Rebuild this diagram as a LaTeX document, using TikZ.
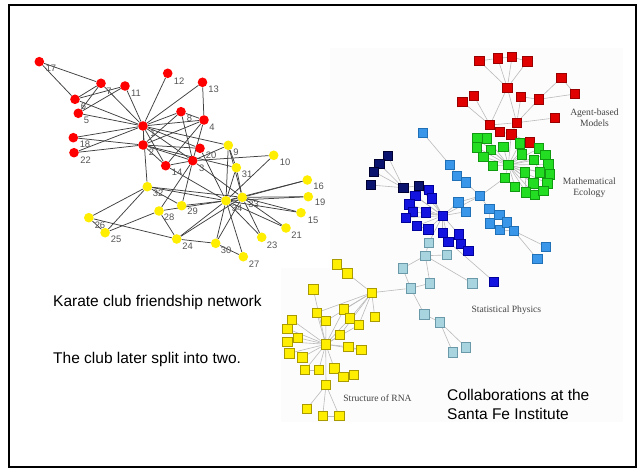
\documentclass[tikz,border=0pt]{standalone}
\usepackage{fontspec}
\setmainfont{Liberation Sans}
\newfontfamily\labserif{Liberation Serif}
\pgfdeclarelayer{bgzero}
\pgfdeclarelayer{edges}
\pgfsetlayers{bgzero,edges,main}
\definecolor{kred}{HTML}{FF0000}
\definecolor{kyel}{HTML}{FFEE00}
\definecolor{kedgec}{HTML}{404040}
\definecolor{klabc}{HTML}{555555}
\definecolor{sedgec}{HTML}{BBBBBB}
\definecolor{sred}{HTML}{E00000}\definecolor{sredd}{HTML}{990000}
\definecolor{sgrn}{HTML}{22DD22}\definecolor{sgrnd}{HTML}{119911}
\definecolor{smid}{HTML}{3A96E8}\definecolor{smidd}{HTML}{2070B8}
\definecolor{snavy}{HTML}{0A146E}\definecolor{snavyd}{HTML}{000033}
\definecolor{sblue}{HTML}{1414E0}\definecolor{sblued}{HTML}{00009A}
\definecolor{spale}{HTML}{A8D4E0}\definecolor{spaled}{HTML}{6A9AAA}
\definecolor{syel}{HTML}{FFEE00}\definecolor{syeld}{HTML}{A89A00}
\definecolor{grplab}{HTML}{444444}
\definecolor{imgbg}{HTML}{FCFCFC}
\tikzset{
  kn/.style={circle,minimum size=9.6pt,inner sep=0pt,draw=none},
  klbl/.style={text=klabc,font=\fontsize{9.4}{10}\selectfont,inner sep=0pt},
  kedge/.style={draw=kedgec,line width=0.75pt},
  sq/.style={rectangle,minimum size=9.4pt,inner sep=0pt,line width=0.6pt},
  sedge/.style={draw=sedgec,line width=0.6pt},
  grp/.style={text=grplab,font=\labserif\fontsize{9.6}{11}\selectfont,inner sep=0pt,align=center},
  bigtxt/.style={font=\fontsize{15.5}{18}\selectfont,inner sep=0pt,anchor=base west}
}
\begin{document}
\begin{tikzpicture}[x=1pt,y=-1pt]
\useasboundingbox (0,0) rectangle (639,470);
\begin{pgfonlayer}{bgzero}
\fill[white] (0,0) rectangle (639,470);
\fill[imgbg] (281,48) rectangle (623,422);
\fill[white] (20,40) rectangle (330,268);
\end{pgfonlayer}
\draw[line width=1.5pt] (9,5) rectangle (636,467);

% ---------- Karate club ----------
\foreach \n/\x/\y/\lx/\ly/\c in {
1/143/126/153/133/kred, 2/143/145/151.6/152/kred, 3/192.7/160.7/201.7/168.7/kred,
4/204/120/212/127/kred, 5/78.3/113.3/86.4/120/kred, 6/75/99.3/83.5/106/kred,
7/101/83.3/109/91/kred, 8/181/111.7/189.5/118/kred, 9/228.3/145.3/236/152/kyel,
10/273.7/155.3/285/162/kyel, 11/125/86/136/93/kred, 12/167.7/73.3/179/81/kred,
13/202.5/82.3/213.5/89/kred, 14/165.7/165.7/177/172/kred, 15/301/212.7/313/220/kyel,
16/307.3/180/318.7/186/kyel, 17/39.3/61.7/51/68/kred, 18/73.3/137.7/85/144/kred,
19/308.3/196.7/320/202.7/kyel, 20/200/148.3/211/155/kred, 21/286/228/296.7/235/kyel,
22/74/152.7/85.6/160/kred, 23/261.7/237.3/272/245/kyel, 24/176.7/239/187.5/246/kyel,
25/105.1/232.7/116/239/kyel, 26/88.8/217.7/100/225/kyel, 27/243.3/256.7/254/264/kyel,
28/159/211/169/217.7/kyel, 29/181.7/205.7/192.7/211/kyel, 30/215.7/243.3/226/250.7/kyel,
31/236.3/167.7/247/174/kyel, 32/147.3/186.7/158/193/kyel, 33/242.3/197.3/253.5/204.7/kyel,
34/226/200.7/237/208/kyel}{
  \node[klbl] (kl\n) at (\lx,\ly) {\n};
  \node[kn,fill=\c] (k\n) at (\x,\y) {};
}
\begin{pgfonlayer}{edges}
\foreach \a/\b in {1/2,1/3,1/4,1/5,1/6,1/7,1/8,1/9,1/11,1/12,1/13,1/14,1/18,1/20,1/22,1/32,
2/3,2/4,2/8,2/14,2/18,2/20,2/22,2/31,3/4,3/8,3/9,3/10,3/14,3/28,3/29,3/33,
4/8,4/13,4/14,5/7,5/11,6/7,6/11,6/17,7/17,9/31,9/33,9/34,10/34,14/34,15/33,15/34,
16/33,16/34,19/33,19/34,20/34,21/33,21/34,23/33,23/34,24/26,24/28,24/30,24/33,24/34,
25/26,25/28,25/32,26/32,27/30,27/34,28/34,29/32,29/34,30/33,30/34,31/33,31/34,32/33,32/34,33/34}
  \draw[kedge] (k\a) -- (k\b);
\end{pgfonlayer}

% ---------- Santa Fe ----------
\foreach \n/\x/\y in {R1/479.3/61,R2/497.7/58.3,R3/512/57,R4/527.3/61.3,R5/507.3/87.7,
R6/561.3/77.7,R7/575/94,R8/521/96.7,R9/538.7/99.3,R10/474/96,R11/462.3/101.7,
R12/516.7/122.7,R13/554.7/118,R14/490/125,R15/500/131.7,R16/511.3/134.3,R17/530/142.3}
  \node[sq,fill=sred,draw=sredd] (\n) at (\x,\y) {};
\foreach \n/\x/\y in {G1/477.3/138.3,G2/486.7/138.3,G3/476.7/147.3,G4/491/149.7,G5/483.3/156.7,
G6/503.3/146.7,G7/520/143.3,G8/538.7/148.3,G9/521.7/154.3,G10/545.3/155,G11/492.7/165.7,
G12/508.3/165,G13/534/160,G14/548.3/164.3,G15/525/172.3,G16/540/172.3,G17/550/174.3,
G18/505/177.7,G19/533.3/183.3,G20/547.3/183.3,G21/515/186.7,G22/526/192.3,G23/534.7/195,G24/543.3/191}
  \node[sq,fill=sgrn,draw=sgrnd] (\n) at (\x,\y) {};
\foreach \n/\x/\y in {B0/422.7/132.7,B1/450/165,B2/456.7/175.7,B3/465.7/182.3,B4/480/196,
B5/458.3/202.3,B6/465.7/211.7,B7/489.3/209,B8/499.3/215,B9/490/223.3,B10/500/230,
B11/506.7/222.3,B12/514/231,B13/546/246.7,B14/537.3/259}
  \node[sq,fill=smid,draw=smidd] (\n) at (\x,\y) {};
\foreach \n/\x/\y in {N1/387.7/155.7,N2/379.3/164,N3/374/171.7,N4/370.7/185,N5/403.3/187.7,N6/418.7/185.7}
  \node[sq,fill=snavy,draw=snavyd] (\n) at (\x,\y) {};
\foreach \n/\x/\y in {U1/428.7/190,U2/415.3/195.7,U3/431.7/198.3,U4/409.3/204.3,U5/426/212.3,
U6/412.7/211.7,U7/406/217.7,U8/442.7/215.7,U9/416.7/226,U10/428.3/229.3,U11/442.7/232.7,
U12/448.3/241.7,U13/458.7/234.3,U14/460.7/244,U15/468.3/251,U16/494/281.7}
  \node[sq,fill=sblue,draw=sblued] (\n) at (\x,\y) {};
\foreach \n/\x/\y in {P1/428.7/242.7,P2/425.3/255.7,P3/446.7/255,P4/402.7/268.3,P5/430/283.3,
P6/472.3/283.3,P7/410.7/288.3,P8/424.3/314.3,P9/440/322.3,P10/452.7/352.3,P11/466/347.3}
  \node[sq,fill=spale,draw=spaled] (\n) at (\x,\y) {};
\foreach \n/\x/\y in {Y1/336.7/264.3,Y2/347.3/273.3,Y3/313.3/289.3,Y4/371.7/292.7,Y5/316.7/312.7,
Y6/344/309.3,Y7/326/321,Y8/350/318.3,Y9/374.7/316.7,Y10/358.7/325,Y11/292/320,Y12/287.3/328.7,
Y13/340/335,Y14/297.7/337.7,Y15/287.3/341.7,Y16/325.7/344.3,Y17/348.3/346.7,Y18/361.3/350,
Y19/289.3/353.3,Y20/302.3/357.3,Y21/305/370,Y22/318.7/370,Y23/334.3/368.3,Y24/343.3/376.7,
Y25/354/375,Y26/326/385,Y27/306.7/409,Y28/322.7/416,Y29/339.3/416}
  \node[sq,fill=syel,draw=syeld] (\n) at (\x,\y) {};

\begin{pgfonlayer}{edges}
\foreach \a/\b in {R1/R2,R2/R3,R3/R4,R1/R5,R2/R5,R3/R5,R4/R5,R5/R12,R5/R14,R8/R12,R9/R12,R8/R9,
R6/R9,R7/R9,R6/R7,R10/R14,R11/R14,R12/R13,R12/R14,R14/R15,R15/R16,R12/R16,R16/R17,R16/G12,R17/G12,
G12/G1,G12/G2,G12/G3,G12/G4,G12/G5,G12/G6,G12/G7,G12/G8,G12/G9,G12/G10,G12/G11,G12/G13,G12/G14,
G12/G15,G12/G16,G12/G17,G12/G18,G12/G19,G12/G20,G12/G21,G12/G22,G12/G23,G12/G24,
G1/G2,G3/G5,G8/G10,G13/G16,G14/G17,G15/G22,G19/G23,G20/G24,G18/B4,
B0/B1,B1/B2,B2/B3,B3/B4,B4/B5,B4/B7,B5/B6,B4/U8,B5/U8,B6/U8,B7/B8,B7/B9,B8/B11,B9/B10,
B10/B12,B11/B12,B12/B13,B12/B14,
N1/N2,N2/N3,N1/N5,N2/N5,N3/N5,N4/N5,N5/N6,N5/U8,N6/U8,
U8/U1,U8/U2,U8/U3,U8/U4,U8/U5,U8/U6,U8/U7,U8/U9,U8/U10,U8/U11,U8/U12,U8/U13,
U1/U3,U2/U4,U4/U6,U6/U7,U9/U10,U11/U12,U13/U14,U14/U15,U12/U16,
U8/P1,P1/P2,P2/P3,P2/P4,P2/P5,P2/P6,P4/P7,P5/P7,P7/P8,P8/P9,P9/P10,P9/P11,P7/Y4,
Y1/Y2,Y2/Y4,Y4/Y5,Y4/Y6,Y4/Y7,Y4/Y8,Y4/Y9,Y4/Y10,Y4/Y13,Y6/Y8,Y8/Y10,
Y16/Y3,Y16/Y5,Y16/Y6,Y16/Y7,Y16/Y8,Y16/Y10,Y16/Y11,Y16/Y12,Y16/Y13,Y16/Y14,Y16/Y15,
Y16/Y17,Y16/Y18,Y16/Y19,Y16/Y20,Y16/Y21,Y16/Y22,Y16/Y23,Y16/Y26,
Y11/Y12,Y17/Y18,Y21/Y22,Y23/Y24,Y24/Y25,Y26/Y27,Y26/Y28,Y26/Y29,Y28/Y29}
  \draw[sedge] (\a) -- (\b);
\end{pgfonlayer}

% ---------- group labels ----------
\node[grp] (lagent) at (594.5,118.2) {Agent-based\\Models};
\node[grp] (lmath) at (589.3,188) {Mathematical\\Ecology};
\node[grp] (lstat) at (506.4,310) {Statistical Physics};
\node[grp] (lrna) at (377.5,398.3) {Structure of RNA};

% ---------- texts ----------
\node[bigtxt] (t1) at (53,306.5) {Karate club friendship network};
\node[bigtxt] (t2) at (53,363.3) {The club later split into two.};
\node[bigtxt] (t3) at (447,400) {Collaborations at the};
\node[bigtxt] (t4) at (447,419.5) {Santa Fe Institute};
\end{tikzpicture}
\end{document}
